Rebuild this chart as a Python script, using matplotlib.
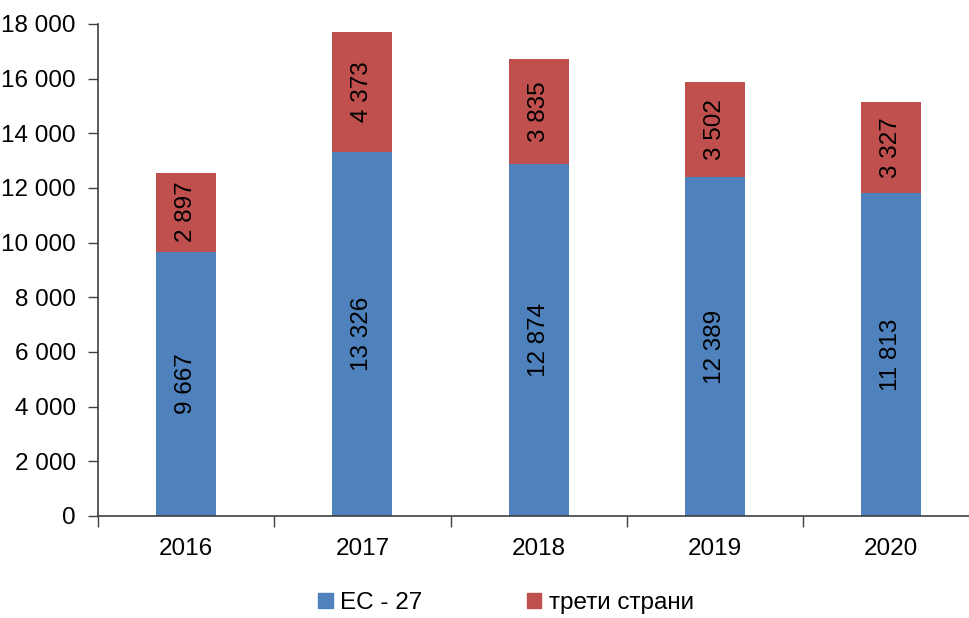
import matplotlib
matplotlib.use("Agg")
import matplotlib.pyplot as plt
from matplotlib.patches import Patch
from matplotlib.ticker import FuncFormatter
import numpy as np

years = ["2016", "2017", "2018", "2019", "2020"]
eu27 = [9667, 13326, 12874, 12389, 11813]
third = [2897, 4373, 3835, 3502, 3327]
series_names = ["ЕС - 27", "трети страни"]
colors = ["#4F81BD", "#C0504D"]

plt.rcParams['font.family'] = ['Liberation Sans Narrow', 'Liberation Sans', 'DejaVu Sans']

def fmt(v):
    return f"{int(v):,}".replace(",", " ")

FS = 17.5

fig = plt.figure(figsize=(9.69, 6.18), dpi=100)
ax = fig.add_axes([98/969, 1-516/618, 881.5/969, 492/618])

x = np.arange(len(years))
w = 0.34
ax.bar(x, eu27, w, color=colors[0], label=series_names[0])
ax.bar(x, third, w, bottom=eu27, color=colors[1], label=series_names[1])

for xi, a, b in zip(x, eu27, third):
    ax.text(xi, a/2, fmt(a), rotation=90, ha='center', va='center', fontsize=FS)
    ax.text(xi, a + b/2, fmt(b), rotation=90, ha='center', va='center', fontsize=FS)

ax.set_ylim(0, 18000)
ax.set_xlim(-0.5, len(years)-0.5)
ax.set_yticks(np.arange(0, 18001, 2000))
ax.yaxis.set_major_formatter(FuncFormatter(lambda v, p: fmt(v)))
ax.tick_params(axis='y', labelsize=FS, length=7, width=1, color='#404040', pad=9)

ax.set_xticks(np.arange(-0.5, len(years), 1.0))
ax.set_xticklabels([])
ax.tick_params(axis='x', which='major', length=8, width=1, color='#404040')
ax.set_xticks(x, minor=True)
ax.set_xticklabels(years, minor=True)
ax.tick_params(axis='x', which='minor', length=0, labelsize=FS, pad=16)

for s in ['top', 'right']:
    ax.spines[s].set_visible(False)
for s in ['left', 'bottom']:
    ax.spines[s].set_color('#404040')
    ax.spines[s].set_linewidth(1.2)

handles = [Patch(color=colors[0]), Patch(color=colors[1])]
fig.legend(handles, series_names, loc='center', bbox_to_anchor=(506/969, 1-603/618),
           ncol=2, frameon=False, fontsize=FS, handlelength=0.6, handleheight=0.6,
           handletextpad=0.3, columnspacing=4.3, borderpad=0.1)

fig.savefig("out.png", dpi=100)
